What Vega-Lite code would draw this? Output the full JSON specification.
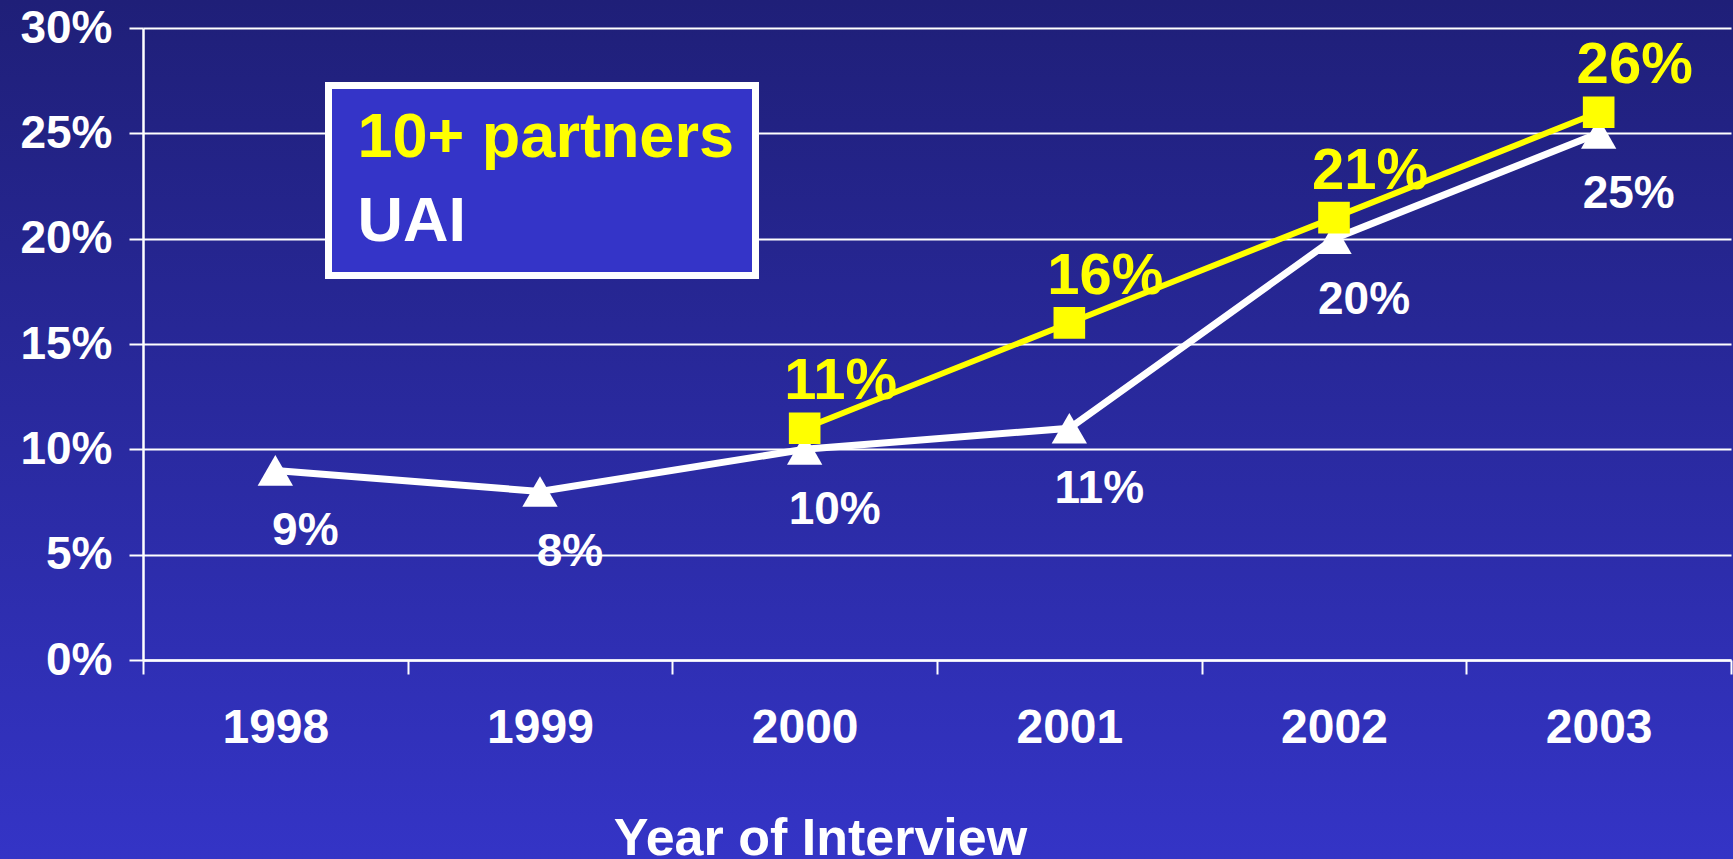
{
  "$schema": "https://vega.github.io/schema/vega-lite/v6.json",
  "autosize": {"type": "none"},
  "width": 1733,
  "height": 859,
  "padding": 0,
  "background": "#3131bf",
  "config": {
    "font": "Liberation Sans",
    "view": {
      "stroke": null,
      "fill": {"gradient": "linear", "x1": 0, "y1": 0, "x2": 0, "y2": 1,
        "stops": [{"offset": 0, "color": "#1f1f78"}, {"offset": 1, "color": "#3434c6"}]}
    }
  },
  "data": {
    "values": [
      {"year": "1998", "series": "UAI", "value": 0.09},
      {"year": "1999", "series": "UAI", "value": 0.08},
      {"year": "2000", "series": "UAI", "value": 0.10},
      {"year": "2001", "series": "UAI", "value": 0.11},
      {"year": "2002", "series": "UAI", "value": 0.20},
      {"year": "2003", "series": "UAI", "value": 0.25},
      {"year": "2000", "series": "10+ partners", "value": 0.11},
      {"year": "2001", "series": "10+ partners", "value": 0.16},
      {"year": "2002", "series": "10+ partners", "value": 0.21},
      {"year": "2003", "series": "10+ partners", "value": 0.26}
    ]
  },
  "encoding": {
    "x": {
      "field": "year", "type": "nominal",
      "scale": {"type": "band", "paddingInner": 0, "paddingOuter": 0, "range": [143, 1731]},
      "axis": {
        "offset": -199,
        "title": "Year of Interview",
        "titleFont": "Liberation Sans", "titleFontSize": 52, "titleFontWeight": "bold", "titleColor": "#ffffff",
        "titleBaseline": "alphabetic", "titleX": 820, "titleY": 194, "titleAlign": "center",
        "labelAngle": 0, "labelFont": "Liberation Sans", "labelFontSize": 48, "labelFontWeight": "bold", "labelColor": "#ffffff",
        "labelBaseline": "alphabetic", "labelPadding": 68,
        "tickBand": "extent", "tickSize": 14, "tickWidth": 2, "tickColor": "#ffffff",
        "domainColor": "#ffffff", "domainWidth": 2.5, "grid": false
      }
    },
    "y": {
      "field": "value", "type": "quantitative",
      "scale": {"domain": [0, 0.3], "nice": false, "range": [660, 28]},
      "axis": {
        "offset": -143,
        "title": null, "values": [0, 0.05, 0.1, 0.15, 0.2, 0.25, 0.3], "format": ".0%",
        "labelFont": "Liberation Sans", "labelFontSize": 46, "labelFontWeight": "bold", "labelColor": "#ffffff",
        "labelPadding": 17, "tickSize": 14, "tickWidth": 2, "tickColor": "#ffffff",
        "domainColor": "#ffffff", "domainWidth": 2.5,
        "grid": true, "gridColor": "#ffffff", "gridWidth": 2, "gridOpacity": 1
      }
    },
    "color": {
      "field": "series", "type": "nominal",
      "scale": {"domain": ["10+ partners", "UAI"], "range": ["#ffff00", "#ffffff"]},
      "legend": {
        "orient": "none", "legendX": 328.5, "legendY": 85.5, "title": null,
        "labelFont": "Liberation Sans", "labelFontSize": 63, "labelFontWeight": "bold", "labelLimit": 0,
        "symbolType": "circle", "symbolOpacity": 0, "symbolSize": 0, "symbolStrokeWidth": 0, "labelOffset": -55,
        "padding": 21, "rowPadding": 20,
        "fillColor": "#3434c8", "strokeColor": "#ffffff",
        "encode": {
          "legend": {"update": {"strokeWidth": {"value": 7}}},
          "symbols": {"update": {"size": {"value": 0}, "opacity": {"value": 0}}},
          "labels": {"update": {"fill": {"signal": "datum.value === 'UAI' ? '#ffffff' : '#ffff00'"}}}
        }
      }
    }
  },
  "layer": [
    {
      "mark": {"type": "line", "strokeWidth": 7},
      "transform": [{"filter": "datum.series === 'UAI'"}]
    },
    {
      "mark": {"type": "line", "strokeWidth": 6},
      "transform": [{"filter": "datum.series === '10+ partners'"}]
    },
    {
      "mark": {"type": "point", "filled": true, "opacity": 1},
      "transform": [{"filter": "datum.series === 'UAI'"}],
      "encoding": {
        "shape": {"value": "triangle-up"},
        "size": {"value": 1250}
      }
    },
    {
      "mark": {"type": "point", "filled": true, "opacity": 1},
      "transform": [{"filter": "datum.series === '10+ partners'"}],
      "encoding": {
        "shape": {"value": "square"},
        "size": {"value": 1000}
      }
    },
    {
      "mark": {"type": "text", "align": "center", "baseline": "alphabetic", "dx": 30, "dy": 75,
        "font": "Liberation Sans", "fontSize": 46, "fontWeight": "bold"},
      "transform": [{"filter": "datum.series === 'UAI'"}],
      "encoding": {"text": {"field": "value", "type": "quantitative", "format": ".0%"}}
    },
    {
      "mark": {"type": "text", "align": "center", "baseline": "alphabetic", "dx": 36, "dy": -29,
        "font": "Liberation Sans", "fontSize": 58, "fontWeight": "bold"},
      "transform": [{"filter": "datum.series === '10+ partners'"}],
      "encoding": {"text": {"field": "value", "type": "quantitative", "format": ".0%"}}
    }
  ]
}
